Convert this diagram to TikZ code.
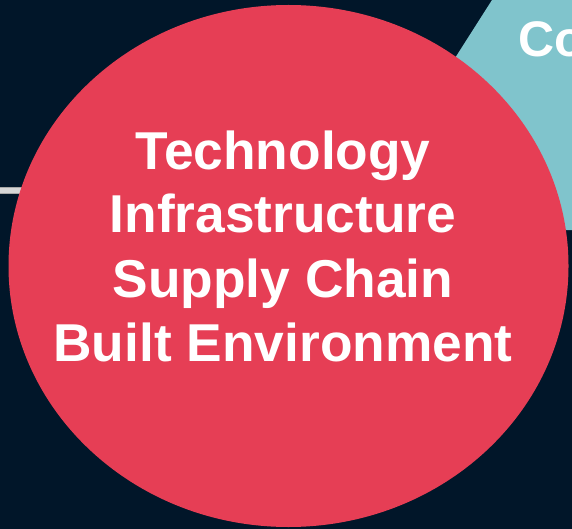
\documentclass[tikz,border=0pt]{standalone}
\usepackage{fontspec}
\setmainfont{Liberation Sans}
\definecolor{navy}{HTML}{011629}
\definecolor{redc}{HTML}{E63E55}
\definecolor{tealc}{HTML}{80C4CC}
\definecolor{barg}{HTML}{D6D6D6}
\begin{document}
\begin{tikzpicture}[x=1pt,y=-1pt,
  lbl/.style={text=white,font=\bfseries\fontsize{53.3}{64}\selectfont,inner sep=0pt,anchor=base},
  colbl/.style={text=white,font=\bfseries\fontsize{50}{60}\selectfont,inner sep=0pt,anchor=base west}]
\useasboundingbox (0,0) rectangle (572,529);
\clip (0,0) rectangle (572,529);
\fill[navy] (0,0) rectangle (572,529);
% teal shape (partly hidden)
\fill[tealc] (492,0) -- (580,0) -- (580,230) -- (480,230) -- (420,113) -- cycle;
% gray bar at left
\fill[barg, draw=gray!70, line width=0.6pt] (-2,187.5) rectangle (60,193.5);
% red circle
\fill[redc] (288.5,266) ellipse [x radius=280, y radius=261];
% texts
\node[lbl] (t1) at (283,170) {Technology};
\node[lbl] (t2) at (283,233) {Infrastructure};
\node[lbl] (t3) at (283,297) {Supply Chain};
\node[lbl] (t4) at (283,361) {Built Environment};
\node[colbl] (co) at (518,57) {Co};
\end{tikzpicture}
\end{document}
